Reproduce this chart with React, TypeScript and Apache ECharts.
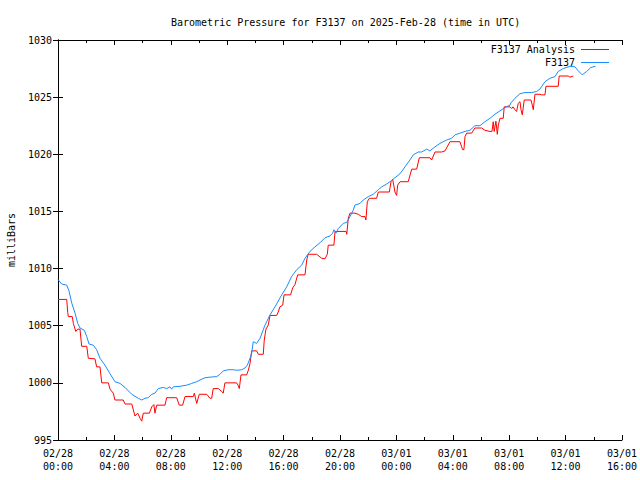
import React, { useEffect, useRef } from "react";
import * as echarts from "echarts";

// Hours since 2025-02-28 00:00 UTC
const stationHours = [
  0.0, 0.26, 0.62, 0.78, 0.97, 1.21, 1.4, 1.56, 1.87, 2.04, 2.2, 2.5, 2.74, 2.98, 3.33, 3.69, 4.04, 4.4, 4.75, 5.23,
  5.7, 5.94, 6.17, 6.4, 6.65, 6.88, 7.11, 7.47, 7.71, 7.94, 8.06, 8.18, 8.65, 9.13, 9.48, 9.84, 10.07, 10.43, 10.78, 11.26,
  11.49, 11.72, 12.08, 12.43, 12.67, 13.03, 13.26, 13.43, 13.62, 13.74, 13.85, 14.09, 14.33, 14.68, 15.04, 15.39, 15.87, 16.22, 16.57, 16.93,
  17.28, 17.52, 17.87, 18.23, 18.58, 18.94, 19.29, 19.48, 19.57, 19.72, 19.88, 20.23, 20.48, 20.71, 20.94, 21.06, 21.42, 21.65, 22.01, 22.36,
  22.72, 22.96, 23.31, 23.55, 23.9, 24.26, 24.61, 24.96, 25.2, 25.55, 25.79, 26.15, 26.38, 26.74, 27.09, 27.57, 27.92, 28.16, 28.51, 28.87,
  29.22, 29.57, 29.93, 30.28, 30.64, 30.99, 31.35, 31.7, 32.06, 32.13, 32.41, 32.77, 33.12, 33.6, 33.95, 34.18, 34.54, 34.89, 35.25, 35.48,
  35.84, 36.31, 36.67, 36.9, 37.18, 37.5, 37.8, 38.13,
];
const stationValues = [
  1009.05, 1008.65, 1008.55, 1008.05, 1007.0, 1006.1, 1005.2, 1004.8, 1004.6, 1004.05, 1003.4, 1003.3, 1002.9, 1002.15, 1001.55, 1000.8, 1000.1, 999.95, 999.6, 999.0,
  998.65, 998.5, 998.65, 998.7, 999.0, 999.1, 999.5, 999.6, 999.5, 999.65, 999.45, 999.65, 999.7, 999.8, 999.95, 1000.1, 1000.25, 1000.45, 1000.5, 1000.55,
  1000.75, 1001.05, 1001.15, 1001.15, 1001.1, 1001.15, 1001.3, 1001.55, 1002.15, 1002.6, 1003.6, 1003.45, 1003.9, 1005.05, 1005.95, 1006.65, 1007.7, 1008.4, 1009.3, 1009.9,
  1010.3, 1010.9, 1011.5, 1011.9, 1012.25, 1012.7, 1012.85, 1013.1, 1013.4, 1013.1, 1013.5, 1013.95, 1014.05, 1014.55, 1015.1, 1015.55, 1015.7, 1016.0, 1016.3, 1016.5,
  1016.9, 1017.15, 1017.4, 1017.6, 1017.95, 1018.3, 1018.9, 1019.5, 1019.95, 1020.2, 1020.2, 1020.45, 1020.3, 1020.65, 1020.95, 1021.25, 1021.4, 1021.7, 1021.85, 1022.0,
  1022.1, 1022.5, 1022.5, 1022.85, 1023.15, 1023.5, 1023.8, 1024.1, 1024.3, 1024.5, 1024.9, 1025.3, 1025.4, 1025.4, 1025.5, 1025.7, 1026.35, 1026.65, 1026.8, 1027.25,
  1027.5, 1027.7, 1027.65, 1027.3, 1026.95, 1027.25, 1027.6, 1027.7,
];

const analysisHours = [
  0.0, 0.62, 0.69, 0.73, 1.01, 1.09, 1.26, 1.4, 1.56, 1.68, 2.04, 2.15, 2.62, 2.74, 2.98, 3.1, 3.57, 3.69, 3.92, 4.04,
  4.63, 4.75, 5.23, 5.46, 5.65, 5.82, 5.94, 6.05, 6.48, 6.65, 6.8, 6.88, 7.0, 7.59, 7.71, 8.42, 8.6, 8.84, 9.01, 9.6,
  9.67, 9.84, 10.02, 10.55, 10.78, 10.9, 11.01, 11.37, 11.61, 11.72, 11.84, 12.67, 12.79, 12.86, 12.98, 13.38, 13.5, 13.62, 13.74, 14.09,
  14.21, 14.56, 14.63, 14.75, 14.91, 15.04, 15.51, 15.62, 15.74, 15.94, 16.03, 16.5, 16.64, 16.81, 17.0, 17.52, 17.64, 17.75, 18.35, 18.7,
  18.94, 19.1, 19.17, 19.57, 19.65, 20.43, 20.48, 20.59, 20.71, 21.06, 21.3, 21.54, 21.77, 21.84, 21.94, 22.08, 22.6, 22.72, 23.5, 23.62,
  23.74, 23.9, 24.02, 24.09, 24.26, 24.84, 25.09, 25.44, 25.63, 26.38, 26.5, 26.74, 27.21, 27.45, 27.8, 28.51, 28.63, 28.7, 28.79, 28.87,
  28.99, 29.34, 29.57, 30.05, 30.28, 30.64, 30.78, 30.87, 30.94, 31.06, 31.16, 31.23, 31.35, 31.58, 31.65, 32.06, 32.18, 32.27, 32.41, 32.53,
  32.64, 32.77, 32.84, 32.93, 33.07, 33.55, 33.64, 33.71, 33.83, 34.18, 34.3, 34.54, 34.61, 35.48, 35.55, 36.19, 36.31, 36.55,
];
const analysisValues = [
  1007.3, 1007.3, 1006.15, 1005.8, 1005.8, 1005.2, 1004.5, 1004.7, 1004.7, 1003.2, 1003.2, 1002.15, 1002.1, 1001.4, 1001.4, 1000.0, 1000.0, 999.45, 999.1, 998.5,
  998.5, 998.15, 998.15, 997.1, 997.35, 996.9, 996.65, 997.35, 997.35, 997.9, 998.1, 997.35, 998.05, 998.05, 998.7, 998.7, 998.05, 998.05, 998.8, 998.8,
  999.1, 998.2, 999.0, 999.0, 998.65, 998.65, 999.5, 999.5, 999.25, 999.1, 1000.0, 1000.0, 999.75, 999.5, 1000.7, 1000.7, 1001.1, 1001.7, 1002.8, 1002.8,
  1002.5, 1002.5, 1003.75, 1004.7, 1005.05, 1005.9, 1005.9, 1006.2, 1006.65, 1006.8, 1007.7, 1007.7, 1008.3, 1008.6, 1009.45, 1009.45, 1010.75, 1011.25, 1011.25, 1010.9,
  1010.85, 1011.25, 1012.05, 1012.05, 1013.25, 1013.25, 1013.0, 1014.4, 1014.85, 1014.85, 1014.75, 1014.55, 1014.55, 1014.25, 1015.85, 1016.15, 1016.15, 1016.7, 1016.7, 1017.6,
  1017.8, 1016.7, 1016.4, 1017.3, 1017.6, 1017.6, 1018.7, 1018.7, 1019.7, 1019.7, 1019.5, 1020.2, 1020.2, 1020.3, 1021.1, 1021.1, 1020.65, 1020.4, 1020.4, 1021.55,
  1021.85, 1021.85, 1022.3, 1022.3, 1022.1, 1022.0, 1022.0, 1022.85, 1022.0, 1022.9, 1021.75, 1022.55, 1023.15, 1023.15, 1024.15, 1024.15, 1024.0, 1024.15, 1023.9, 1023.75,
  1024.45, 1024.6, 1023.9, 1023.45, 1024.75, 1024.75, 1024.3, 1023.9, 1025.25, 1025.25, 1025.2, 1025.2, 1025.95, 1025.95, 1026.85, 1026.85, 1026.75, 1026.85,
];

const titleText = "Barometric Pressure for F3137 on 2025-Feb-28 (time in UTC)";
const yAxisTitle = "milliBars";
const seriesNames = ["F3137 Analysis", "F3137"];
const dayLabels = ["02/28", "03/01"];

const FONT = "DejaVu Sans Mono, Liberation Mono, monospace";
const RED = "#ff0000";
const BLUE = "#1a8cff";

function hourLabel(h: number): string {
  const day = dayLabels[Math.floor(h / 24)] ?? "";
  const hh = Math.round(h % 24);
  return `${day}\n${hh < 10 ? "0" + hh : hh}:00`;
}

export default function App() {
  const ref = useRef<HTMLDivElement>(null);
  useEffect(() => {
    if (!ref.current) return;
    const chart = echarts.init(ref.current, undefined, { renderer: "svg" });
    const axisLine = { show: true, lineStyle: { color: "#000", width: 1 } };
    const option: any = {
      animation: false,
      backgroundColor: "#fff",
      textStyle: { fontFamily: FONT },
      title: {
        text: titleText,
        left: 166,
        top: 12,
        textStyle: { fontFamily: FONT, fontSize: 10, fontWeight: "normal", color: "#000" },
      },
      grid: { left: 58, right: 18, top: 40, bottom: 40 },
      xAxis: [
        {
          type: "value",
          position: "bottom",
          min: 0,
          max: 40,
          interval: 4,
          axisLine,
          axisTick: { show: true, inside: true, length: 5, lineStyle: { color: "#000" } },
          minorTick: { show: true, splitNumber: 2, length: 3, lineStyle: { color: "#000" } },
          splitLine: { show: false },
          axisLabel: {
            formatter: (v: number) => hourLabel(v),
            fontFamily: FONT,
            fontSize: 10,
            color: "#000",
            lineHeight: 13,
            margin: 7,
            showMaxLabel: true,
            showMinLabel: true,
          },
        },
        {
          type: "value",
          position: "top",
          min: 0,
          max: 40,
          interval: 4,
          axisLine,
          axisTick: { show: true, inside: true, length: 5, lineStyle: { color: "#000" } },
          minorTick: { show: true, splitNumber: 2, length: 3, lineStyle: { color: "#000" } },
          splitLine: { show: false },
          axisLabel: { show: false },
        },
      ],
      yAxis: [
        {
          type: "value",
          position: "left",
          min: 995,
          max: 1030,
          interval: 5,
          axisLine,
          axisTick: { show: true, inside: true, length: 5, lineStyle: { color: "#000" } },
          splitLine: { show: false },
          axisLabel: {
            formatter: (v: number) => String(v),
            fontFamily: FONT,
            fontSize: 10,
            color: "#000",
            margin: 6,
          },
        },
        {
          type: "value",
          position: "right",
          min: 995,
          max: 1030,
          interval: 5,
          axisLine,
          axisTick: { show: true, inside: true, length: 5, lineStyle: { color: "#000" } },
          splitLine: { show: false },
          axisLabel: { show: false },
        },
      ],
      series: [
        {
          name: seriesNames[0],
          type: "line",
          data: analysisHours.map((h, i) => [h, analysisValues[i]]),
          showSymbol: false,
          lineStyle: { color: RED, width: 1 },
          itemStyle: { color: RED },
          z: 2,
        },
        {
          name: seriesNames[1],
          type: "line",
          data: stationHours.map((h, i) => [h, stationValues[i]]),
          showSymbol: false,
          lineStyle: { color: BLUE, width: 1 },
          itemStyle: { color: BLUE },
          z: 3,
        },
      ],
      graphic: [
        {
          type: "text",
          x: 11,
          y: 240,
          rotation: Math.PI / 2,
          style: { text: yAxisTitle, fontFamily: FONT, fontSize: 10, fill: "#000", align: "center", verticalAlign: "middle" },
        },
        {
          type: "text",
          x: 575,
          y: 49.5,
          style: { text: seriesNames[0], fontFamily: FONT, fontSize: 10, fill: "#000", align: "right", verticalAlign: "middle" },
        },
        {
          type: "line",
          shape: { x1: 581, y1: 49.5, x2: 609, y2: 49.5 },
          style: { stroke: RED, lineWidth: 1 },
        },
        {
          type: "text",
          x: 575,
          y: 62.5,
          style: { text: seriesNames[1], fontFamily: FONT, fontSize: 10, fill: "#000", align: "right", verticalAlign: "middle" },
        },
        {
          type: "line",
          shape: { x1: 581, y1: 62.5, x2: 609, y2: 62.5 },
          style: { stroke: BLUE, lineWidth: 1 },
        },
      ],
    };
    chart.setOption(option);
    return () => chart.dispose();
  }, []);
  return <div ref={ref} style={{ width: 640, height: 480, position: "absolute", left: 0, top: 0 }} />;
}
